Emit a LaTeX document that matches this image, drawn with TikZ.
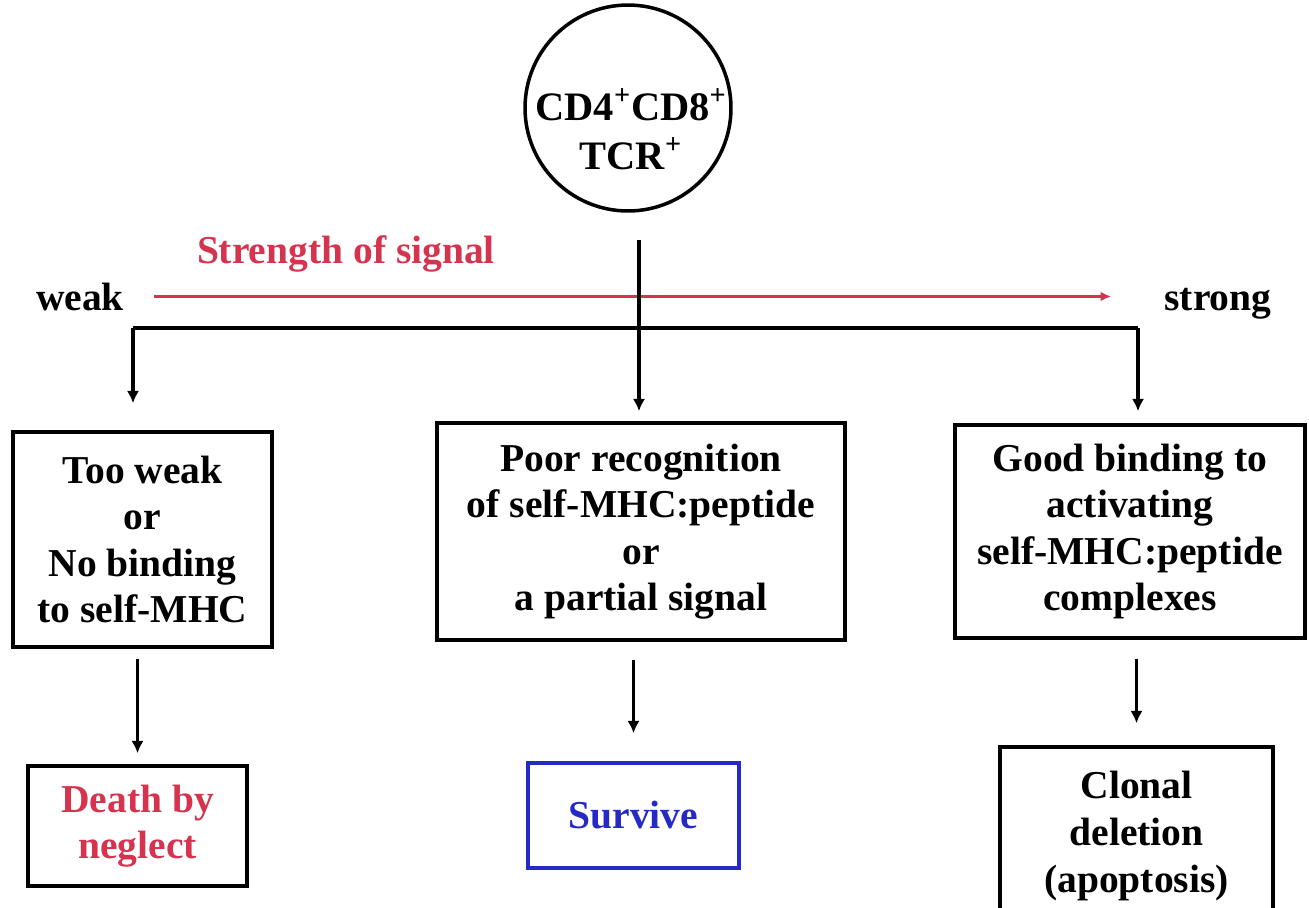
\documentclass[tikz,border=0pt]{standalone}
\usepackage{fontspec}
\setmainfont{Liberation Serif}
\usepackage{xcolor}
\usepackage{tikz}
\usetikzlibrary{arrows.meta}

\definecolor{sigred}{RGB}{214,52,78}
\definecolor{survblue}{RGB}{38,42,196}

\begin{document}
\begin{tikzpicture}[x=0.02cm, y=-0.02cm,
  txt/.style={font=\bfseries\fontsize{22.5}{26.5}\selectfont, align=center},
  fate/.style={txt, draw, line width=2.1pt, inner sep=0pt},
  cell/.style={draw, circle, line width=2pt, minimum size=4.12cm, inner sep=0pt},
  wire/.style={line width=1.9pt},
  arrow/.style={wire, -{Latex[length=7pt,width=7pt]}},
  sig/.style={line width=1.4pt, color=sigred, -{Latex[length=6pt,width=5.5pt]}},
]
  \useasboundingbox (0,0) rectangle (1309,907);

  % thymocyte
  \node[cell] (cell) at (628,108) {};
  \node[txt, font=\bfseries\fontsize{23}{28}\selectfont] (celltxt) at (631,129)
    {CD4\textsuperscript{+}CD8\textsuperscript{+}\\TCR\textsuperscript{+}};

  % signal strength scale
  \node[txt, text=sigred, anchor=base] (strength) at (346,263) {Strength of signal};
  \node[txt, anchor=base, inner sep=0pt] (weak) at (80,310) {weak};
  \node[txt, anchor=base, inner sep=0pt] (strong) at (1218,310) {strong};
  \draw[sig, shorten <=0.6cm, shorten >=1.06cm] (weak.east) -- (weak.east -| strong.west);

  % selection outcomes
  \node[fate, minimum width=5.18cm, minimum height=4.30cm] (neg) at (142.5,539.5)
    {Too weak\\or\\No binding\\to self-MHC};
  \node[fate, minimum width=8.16cm, minimum height=4.34cm] (pos) at (641,531.5)
    {Poor recognition\\of self-MHC:peptide\\or\\a partial signal};
  \node[fate, minimum width=7.00cm, minimum height=4.26cm] (high) at (1130,531.5)
    {Good binding to\\activating\\self-MHC:peptide\\complexes};

  \node[fate, text=sigred, minimum width=4.38cm, minimum height=2.40cm] (death) at (137.5,826)
    {Death by\\neglect};
  \node[fate, draw=survblue, text=survblue, minimum width=4.22cm, minimum height=2.10cm] (survive) at (633.5,815.5)
    {Survive};
  \node[fate, minimum width=5.46cm, minimum height=3.56cm] (clonal) at (1136.5,836)
    {Clonal\\deletion\\(apoptosis)};

  % branching
  \coordinate (stem) at (639,240);
  \coordinate (busL) at (133,328);
  \coordinate (busR) at (1138,328);
  \draw[wire] (busL) -- (busR);
  \draw[arrow, shorten >=0.2cm] (stem) -- (stem |- pos.north);
  \draw[arrow, shorten >=0.54cm] (busL) -- (busL |- neg.north);
  \draw[arrow, shorten >=0.24cm] (busR) -- (busR |- high.north);

  \draw[arrow, shorten <=0.2cm, shorten >=0.22cm] (death.north |- neg.south) -- (death.north);
  \draw[arrow, shorten <=0.36cm, shorten >=0.56cm] (survive.north |- pos.south) -- (survive.north);
  \draw[arrow, shorten <=0.38cm, shorten >=0.44cm] (clonal.north |- high.south) -- (clonal.north);
\end{tikzpicture}
\end{document}
